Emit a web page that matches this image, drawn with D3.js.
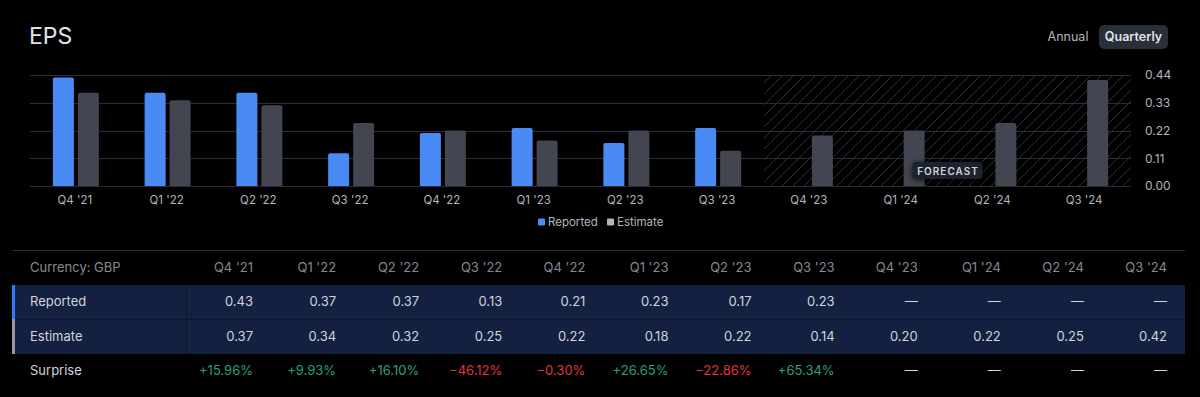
<!DOCTYPE html>
<html>
<head>
<meta charset="utf-8">
<script src="https://cdn.jsdelivr.net/npm/d3@7"></script>
<style>
  html, body { margin: 0; padding: 0; background: #000; }
  svg { display: block; }
  text { font-family: Inter, "Noto Sans", sans-serif; }
</style>
</head>
<body>
<svg id="chart" width="1200" height="397"></svg>
<script>
// ---- data ----
const categories = ["Q4 '21","Q1 '22","Q2 '22","Q3 '22","Q4 '22","Q1 '23","Q2 '23","Q3 '23","Q4 '23","Q1 '24","Q2 '24","Q3 '24"];
const reported = [0.43, 0.37, 0.37, 0.13, 0.21, 0.23, 0.17, 0.23, null, null, null, null];
const estimate = [0.37, 0.34, 0.32, 0.25, 0.22, 0.18, 0.22, 0.14, 0.20, 0.22, 0.25, 0.42];
const surprise = [15.96, 9.93, 16.10, -46.12, -0.30, 26.65, -22.86, 65.34, null, null, null, null];
const yTicks = [0, 0.11, 0.22, 0.33, 0.44];
const forecastStart = "Q4 '23";
const seriesNames = ["Reported", "Estimate"];
const currency = "GBP";

// ---- styles ----
const C = {
  bg: "#000000",
  grid: "#2a2d37",
  hatch: "#2c303c",
  blue: "#4a8af4",
  gray: "#434651",
  legendGray: "#b2b5be",
  text: "#d1d4dc",
  axisText: "#b2b5be",
  muted: "#868993",
  rowBg: "#132040",
  green: "#26a17f",
  red: "#e3343f"
};

const svg = d3.select("#chart");
svg.append("rect").attr("width", 1200).attr("height", 397).attr("fill", C.bg);

// hatch pattern
const defs = svg.append("defs");
const pat = defs.append("pattern").attr("id", "hatch").attr("patternUnits", "userSpaceOnUse")
  .attr("width", 11).attr("height", 11);
pat.append("path").attr("d", "M-1,12 L12,-1 M-3,3 L3,-3 M8,14 L14,8")
  .attr("stroke", C.hatch).attr("stroke-width", 1);
const flt = defs.append("filter").attr("id", "shadow").attr("x", "-30%").attr("y", "-50%").attr("width", "160%").attr("height", "200%");
flt.append("feDropShadow").attr("dx", 0).attr("dy", 1).attr("stdDeviation", 3).attr("flood-color", "#000").attr("flood-opacity", 0.8);

// title & toggles
svg.append("text").attr("x", 29).attr("y", 44).attr("font-size", 23).attr("fill", "#e0e3eb").text("EPS");
svg.append("text").attr("x", 1068).attr("y", 41).attr("text-anchor", "middle").attr("font-size", 12.5).attr("fill", C.axisText).text("Annual");
svg.append("rect").attr("x", 1099).attr("y", 25).attr("width", 69).attr("height", 24).attr("rx", 5).attr("fill", "#2a2e39");
svg.append("text").attr("x", 1133.5).attr("y", 41).attr("text-anchor", "middle").attr("font-size", 12.5).attr("font-weight", 600).attr("fill", "#e0e3eb").text("Quarterly");

// scales
const x = d3.scaleBand().domain(categories).range([30, 1131]).paddingInner(0);
const xs = d3.scaleBand().domain(seriesNames).range([-23, 23]).paddingInner(0.16);
const y = d3.scaleLinear().domain([0, 0.44]).range([186, 75]);

// forecast area
const fx0 = x(forecastStart);
const fx1 = x.range()[1];
svg.append("rect").attr("x", fx0).attr("y", y(0.44)).attr("width", fx1 - fx0).attr("height", y(0) - y(0.44))
  .attr("fill", "url(#hatch)");

// gridlines
svg.append("g").selectAll("line").data(yTicks).join("line")
  .attr("x1", 30).attr("x2", 1131)
  .attr("y1", d => Math.round(y(d)) + 0.5).attr("y2", d => Math.round(y(d)) + 0.5)
  .attr("stroke", C.grid).attr("stroke-width", 1);

// y axis labels
const yAxis = d3.axisRight(y).tickValues(yTicks).tickFormat(d3.format(".2f")).tickSize(0).tickPadding(0);
const yg = svg.append("g").attr("transform", "translate(1145,0)").call(yAxis);
yg.select(".domain").remove();
yg.selectAll("text").attr("font-size", 12).attr("fill", C.axisText).attr("font-family", "Inter, sans-serif");

// x axis labels
const xAxis = d3.axisBottom(x).tickSize(0).tickPadding(0);
const xg = svg.append("g").attr("transform", "translate(-1,196)").call(xAxis);
xg.select(".domain").remove();
xg.selectAll("text").attr("font-size", 11.5).attr("fill", C.axisText).attr("font-family", "Inter, sans-serif");

// bars
function topRounded(x0, y0, w, h, r) {
  if (h <= 0) return "";
  r = Math.min(r, h, w / 2);
  return `M${x0},${y0 + h} L${x0},${y0 + r} Q${x0},${y0} ${x0 + r},${y0} L${x0 + w - r},${y0} Q${x0 + w},${y0} ${x0 + w},${y0 + r} L${x0 + w},${y0 + h} Z`;
}
const barData = [];
categories.forEach((c, i) => {
  if (reported[i] != null) barData.push({ c, s: "Reported", v: reported[i] });
  if (estimate[i] != null) barData.push({ c, s: "Estimate", v: estimate[i] });
});
svg.append("g").selectAll("path").data(barData).join("path")
  .attr("d", d => {
    const cx = x(d.c) + x.bandwidth() / 2;
    const x0 = cx + xs(d.s);
    return topRounded(x0, y(d.v), xs.bandwidth(), y(0) - y(d.v), 2);
  })
  .attr("fill", d => d.s === "Reported" ? C.blue : C.gray);

// forecast badge
const bcx = (fx0 + fx1) / 2;
const bg = svg.append("g").attr("transform", `translate(${bcx},171)`);
bg.append("rect").attr("x", -35).attr("y", -9).attr("width", 70).attr("height", 17).attr("rx", 4)
  .attr("fill", "#1e222d").attr("filter", "url(#shadow)");
bg.append("text").attr("x", 0.5).attr("y", 4).attr("text-anchor", "middle").attr("font-size", 10)
  .attr("font-weight", 600).attr("letter-spacing", 1).attr("fill", C.text).text("FORECAST");

// legend
const legend = svg.append("g").attr("transform", "translate(538,222)");
const legItems = [{ n: "Reported", c: C.blue, dx: 0 }, { n: "Estimate", c: C.legendGray, dx: 69 }];
legItems.forEach(it => {
  const g = legend.append("g").attr("transform", `translate(${it.dx},0)`);
  g.append("rect").attr("x", 0).attr("y", -3.5).attr("width", 7).attr("height", 7).attr("rx", 1).attr("fill", it.c);
  g.append("text").attr("x", 10).attr("y", 4).attr("font-size", 11.5).attr("fill", C.axisText).text(it.n);
});

// separator
svg.append("line").attr("x1", 12).attr("x2", 1185).attr("y1", 250.5).attr("y2", 250.5).attr("stroke", "#2a2e39");

// table
const colX = d3.scalePoint().domain(categories).range([253, 1167]);
const rowY = { header: 272, Reported: 306, Estimate: 341, Surprise: 375 };

// row backgrounds
svg.append("rect").attr("x", 12).attr("y", 285).attr("width", 1173).attr("height", 69).attr("fill", C.rowBg);
svg.append("line").attr("x1", 12).attr("x2", 1185).attr("y1", 319.5).attr("y2", 319.5).attr("stroke", "#0e1833");
svg.append("line").attr("x1", 186.5).attr("x2", 186.5).attr("y1", 285).attr("y2", 354)
  .attr("stroke", "#06101f").attr("stroke-dasharray", "1,1");
svg.append("rect").attr("x", 12).attr("y", 285).attr("width", 3).attr("height", 34).attr("fill", "#3179f5");
svg.append("rect").attr("x", 12).attr("y", 319).attr("width", 3).attr("height", 35).attr("fill", "#9598a1");

const fs = 13;
svg.append("text").attr("x", 30).attr("y", rowY.header).attr("font-size", fs).attr("fill", C.muted).text("Currency: " + currency);
svg.append("g").selectAll("text").data(categories).join("text")
  .attr("x", d => colX(d)).attr("y", rowY.header).attr("text-anchor", "end")
  .attr("font-size", fs).attr("fill", C.muted).text(d => d);

const dash = "\u2014";
function rowText(label, vals, fmt, colorFn) {
  svg.append("text").attr("x", 30).attr("y", rowY[label]).attr("font-size", fs).attr("fill", C.text).text(label);
  svg.append("g").selectAll("text").data(vals).join("text")
    .attr("x", (d, i) => colX(categories[i])).attr("y", rowY[label]).attr("text-anchor", "end")
    .attr("font-size", fs).attr("fill", (d, i) => colorFn(d))
    .text(d => d == null ? dash : fmt(d));
}
rowText("Reported", reported, d3.format(".2f"), () => C.text);
rowText("Estimate", estimate, d3.format(".2f"), () => C.text);
rowText("Surprise", surprise, d => (d >= 0 ? "+" : "\u2212") + Math.abs(d).toFixed(2) + "%",
  d => d == null ? C.text : (d >= 0 ? C.green : C.red));
</script>
</body>
</html>
